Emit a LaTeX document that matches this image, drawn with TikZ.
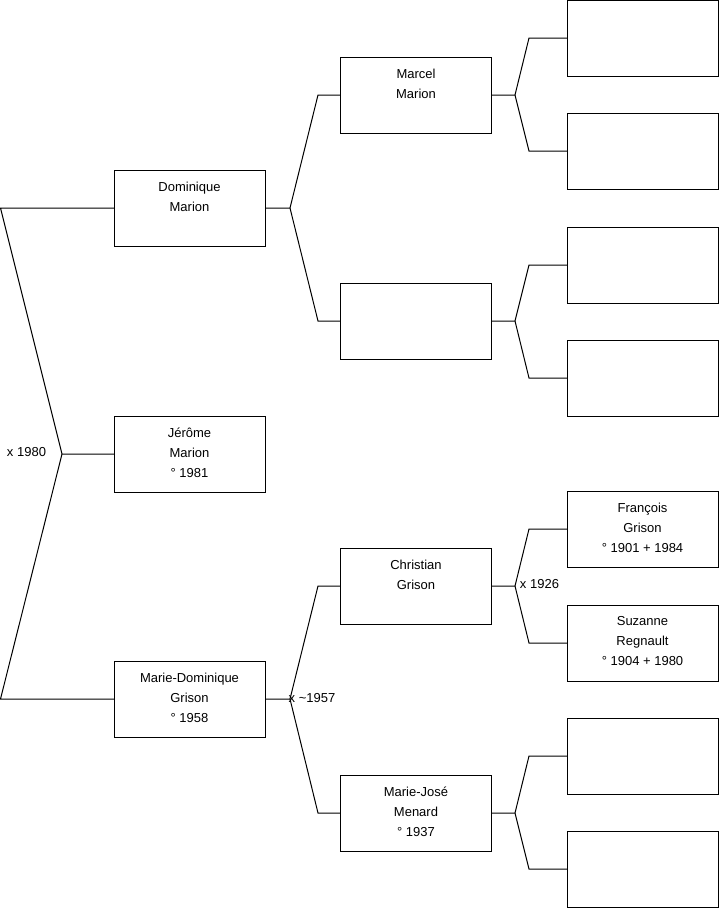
\documentclass[tikz,border=0pt]{standalone}
\usepackage{fontspec}
\setmainfont{Liberation Sans}
\begin{document}
\begin{tikzpicture}[x=1pt,y=-1pt,
  box/.style={draw=black,line width=1pt,minimum width=151pt,minimum height=76pt,inner sep=0pt,outer sep=0pt},
  txt/.style={anchor=north,yshift=-11.5pt,inner sep=0pt,align=center,font=\fontsize{13}{20}\selectfont},
  lbl/.style={inner sep=0pt,font=\fontsize{13}{14}\selectfont},
  con/.style={draw=black,line width=1pt}]
\useasboundingbox (0,0) rectangle (719,908);
% column 1
\node[box] (dm) at (189.5,208) {};
\node[txt] (dmT) at (dm.north) {Dominique\\Marion};
\node[box] (jm) at (189.5,454) {};
\node[txt] (jmT) at (jm.north) {Jérôme\\Marion\\° 1981};
\node[box] (mdg) at (189.5,699) {};
\node[txt] (mdgT) at (mdg.north) {Marie-Dominique\\Grison\\° 1958};
% column 2
\node[box] (mm) at (416,95) {};
\node[txt] (mmT) at (mm.north) {Marcel\\Marion};
\node[box] (e2) at (416,321) {};
\node[box] (cg) at (416,586) {};
\node[txt] (cgT) at (cg.north) {Christian\\Grison};
\node[box] (mjm) at (416,813) {};
\node[txt] (mjmT) at (mjm.north) {Marie-José\\Menard\\° 1937};
% column 3
\node[box] (r1) at (642.5,38) {};
\node[box] (r2) at (642.5,151) {};
\node[box] (r3) at (642.5,265) {};
\node[box] (r4) at (642.5,378) {};
\node[box] (r5) at (642.5,529) {};
\node[txt] (r5T) at (r5.north) {François\\Grison\\° 1901 + 1984};
\node[box] (r6) at (642.5,643) {};
\node[txt] (r6T) at (r6.north) {Suzanne\\Regnault\\° 1904 + 1980};
\node[box] (r7) at (642.5,756) {};
\node[box] (r8) at (642.5,869) {};
% root bracket
\coordinate (k0) at (62,454);
\coordinate (kA) at (0.5,208);
\coordinate (kB) at (0.5,699);
\draw[con] (jm.west) -- (k0) -- (kA) -- (dm.west);
\draw[con] (k0) -- (kB) -- (mdg.west);
\node[lbl] (l1980) at (26.5,452) {x 1980};
% level 2 brackets
\coordinate (kd) at (290,208);
\coordinate (kd1) at (318,95);
\coordinate (kd2) at (318,321);
\draw[con] (dm.east) -- (kd) -- (kd1) -- (mm.west);
\draw[con] (kd) -- (kd2) -- (e2.west);
\coordinate (kg) at (290,699);
\coordinate (kg1) at (318,586);
\coordinate (kg2) at (318,813);
\draw[con] (mdg.east) -- (kg) -- (kg1) -- (cg.west);
\draw[con] (kg) -- (kg2) -- (mjm.west);
\node[lbl] (l1957) at (312,698) {x \textasciitilde1957};
% level 3 brackets
\coordinate (km) at (515,95);
\coordinate (km1) at (529,38);
\coordinate (km2) at (529,151);
\draw[con] (mm.east) -- (km) -- (km1) -- (r1.west);
\draw[con] (km) -- (km2) -- (r2.west);
\coordinate (ke) at (515,321);
\coordinate (ke1) at (529,265);
\coordinate (ke2) at (529,378);
\draw[con] (e2.east) -- (ke) -- (ke1) -- (r3.west);
\draw[con] (ke) -- (ke2) -- (r4.west);
\coordinate (kc) at (515,586);
\coordinate (kc1) at (529,529);
\coordinate (kc2) at (529,643);
\draw[con] (cg.east) -- (kc) -- (kc1) -- (r5.west);
\draw[con] (kc) -- (kc2) -- (r6.west);
\node[lbl] (l1926) at (539.5,584) {x 1926};
\coordinate (kj) at (515,813);
\coordinate (kj1) at (529,756);
\coordinate (kj2) at (529,869);
\draw[con] (mjm.east) -- (kj) -- (kj1) -- (r7.west);
\draw[con] (kj) -- (kj2) -- (r8.west);
\end{tikzpicture}
\end{document}
